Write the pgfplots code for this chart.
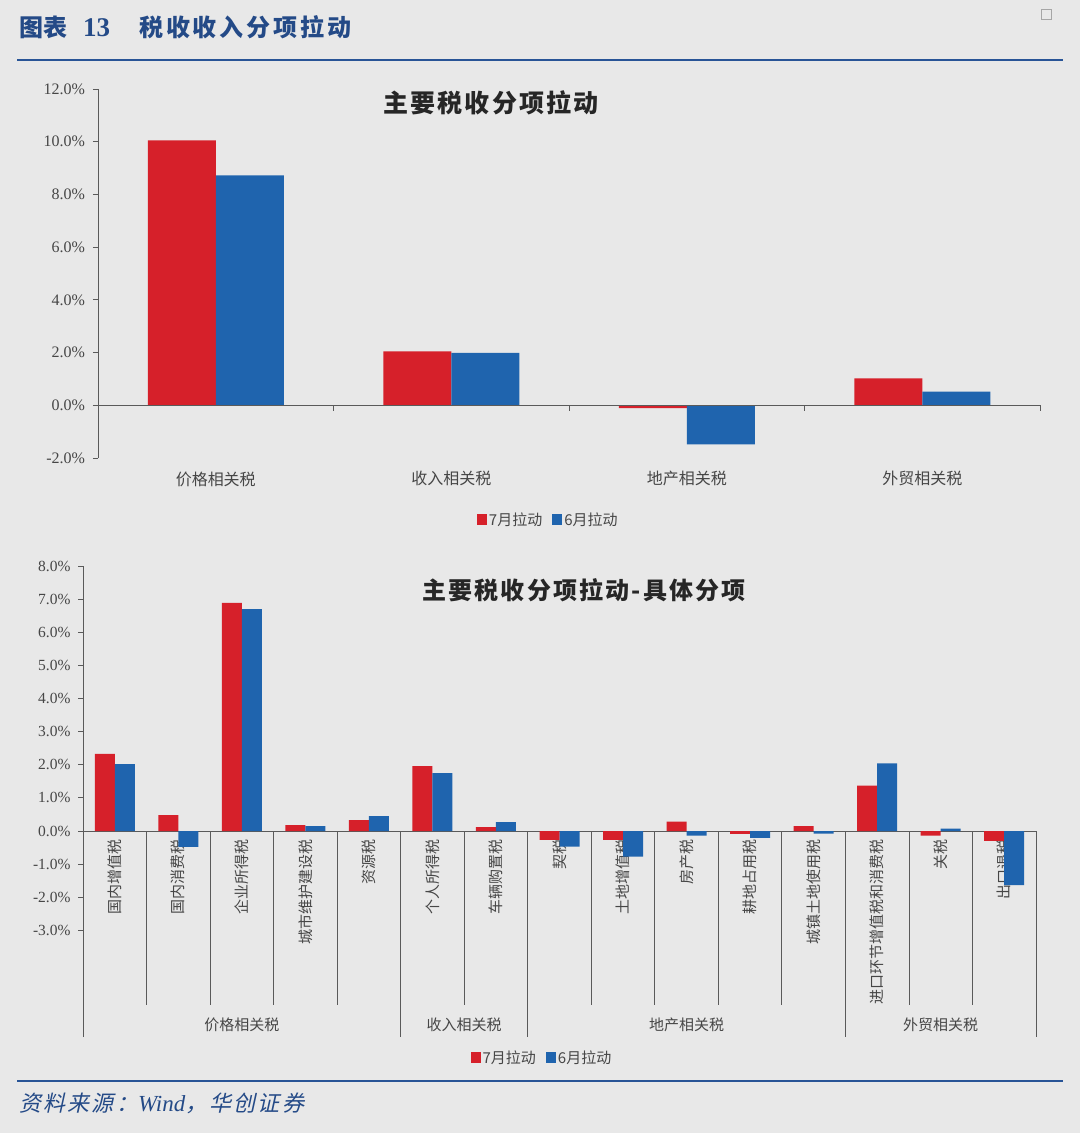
\documentclass[border=0pt]{standalone}
\usepackage{fontspec}
\usepackage{pgfplots}
\pgfplotsset{compat=1.18}
\setmainfont{Liberation Serif}
\newfontfamily\cjk{Noto Sans CJK SC}
\newfontfamily\cjksp{Noto Sans CJK SC}[LetterSpace=12]
\newfontfamily\cjkti{Noto Sans CJK SC}[LetterSpace=9]
\newfontfamily\cjkit{Noto Sans CJK SC}[FakeSlant=0.22,LetterSpace=10]
\definecolor{bg}{RGB}{232,232,232}
\definecolor{barred}{RGB}{214,32,42}
\definecolor{barblue}{RGB}{31,100,174}
\definecolor{axisgray}{RGB}{90,90,90}
\definecolor{labelgray}{RGB}{70,70,70}
\definecolor{hdrblue}{RGB}{36,74,135}
\definecolor{lineblue}{RGB}{40,84,150}

\pgfplotstableread{
x r b
0 10.05 8.72
1 2.05 1.99
2 -0.11 -1.48
3 1.02 0.52
}\topdata

\pgfplotstableread{
x r b
0 2.33 2.02
1 0.48 -0.48
2 6.89 6.70
3 0.18 0.15
4 0.33 0.45
5 1.96 1.75
6 0.12 0.27
7 -0.27 -0.47
8 -0.27 -0.77
9 0.28 -0.14
10 -0.09 -0.21
11 0.15 -0.08
12 1.37 2.04
13 -0.14 0.07
14 -0.30 -1.63
}\botdata

\begin{document}
\begin{tikzpicture}
\useasboundingbox (0,0) rectangle (1080pt,-1133pt);
\fill[bg] (0,0) rectangle (1080pt,-1133pt);
% header
\node[anchor=west, text=hdrblue, inner sep=0pt] at (19pt,-27pt)
  {\cjk\fontsize{24}{28}\selectfont\bfseries 图表\hspace{16pt}{\rmfamily\bfseries\fontsize{27}{30}\selectfont 13}\hspace{29pt}{\cjksp\bfseries 税收收入分项拉动}};
\draw[lineblue, line width=2pt] (17pt,-60pt) -- (1063pt,-60pt);
\draw[gray!70, line width=0.8pt] (1041pt,-9pt) rectangle (1051pt,-19pt);
% footer
\draw[lineblue, line width=2pt] (17pt,-1081pt) -- (1063pt,-1081pt);
\node[anchor=west, text=hdrblue, inner sep=0pt] at (19pt,-1103pt)
  {\cjkit\fontsize{22}{26}\selectfont 资料来源：{\rmfamily\itshape\fontsize{23}{26}\selectfont Wind}，华创证券};

% ---------------- top chart
\begin{axis}[
  at={(98pt,-458pt)}, anchor=south west,
  scale only axis, width=942pt, height=369pt,
  xmin=-0.5, xmax=3.5, ymin=-2, ymax=12,
  axis lines=left, axis line style={-, draw=axisgray, line width=0.8pt},
  x axis line style={draw=none},
  ytick={-2,0,2,4,6,8,10,12},
  yticklabel={\pgfmathprintnumber[fixed,fixed zerofill,precision=1,assume math mode=true]{\tick}\%},
  yticklabel style={font=\fontsize{16}{18}\selectfont, text=labelgray, xshift=-4.5pt},
  ytick style={draw=axisgray, line width=0.8pt},
  tick align=outside, major tick length=5pt,
  xtick={0,1,2,3},
  xticklabels={价格相关税,收入相关税,地产相关税,外贸相关税},
  xticklabel style={font=\cjk\fontsize{16}{19}\selectfont, text=labelgray, yshift=-5pt},
  x tick style={draw=none},
  ybar=0pt, bar width=68pt,
  legend style={at={(0.478,-0.168)}, anchor=center, draw=none, fill=none,
    legend columns=2, font=\cjk\fontsize{15}{18}\selectfont, text=labelgray,
    /tikz/every even column/.append style={column sep=8pt}},
  legend image code/.code={\path[#1,draw=none] (0pt,-5pt) rectangle (10pt,6pt);},
  clip=false,
]
\addplot[fill=barred, draw=none] table[x=x,y=r] {\topdata};
\addplot[fill=barblue, draw=none] table[x=x,y=b] {\topdata};
\legend{7月拉动,6月拉动}
\draw[axisgray, line width=0.8pt] (axis cs:-0.5,0) -- (axis cs:3.5,0);
\draw[axisgray, line width=0.8pt] (axis cs:0.5,0) -- ++(0pt,-6pt);
\draw[axisgray, line width=0.8pt] (axis cs:1.5,0) -- ++(0pt,-6pt);
\draw[axisgray, line width=0.8pt] (axis cs:2.5,0) -- ++(0pt,-6pt);
\draw[axisgray, line width=0.8pt] (axis cs:3.5,0) -- ++(0pt,-6pt);
\end{axis}
\node[text=black!85] at (491pt,-103pt) {\cjkti\fontsize{25}{29}\selectfont\bfseries 主要税收分项拉动};

% ---------------- bottom chart
\begin{axis}[
  at={(83pt,-1037pt)}, anchor=south west,
  scale only axis, width=953pt, height=471pt,
  xmin=-0.5, xmax=14.5, ymin=-6.219, ymax=8,
  axis y line=left, axis x line=middle,
  hide obscured x ticks=false, hide obscured y ticks=false,
  axis line style={-, draw=axisgray, line width=0.8pt},
  ytick={-3,-2,-1,0,1,2,3,4,5,6,7,8},
  yticklabel={\pgfmathprintnumber[fixed,fixed zerofill,precision=1,assume math mode=true]{\tick}\%},
  yticklabel style={font=\fontsize{15.5}{17}\selectfont, text=labelgray, xshift=-4pt},
  ytick style={draw=axisgray, line width=0.8pt},
  ytick align=outside, major tick length=5pt,
  xtick={0,...,14},
  xticklabels={国内增值税,国内消费税,企业所得税,城市维护建设税,资源税,个人所得税,车辆购置税,契税,土地增值税,房产税,耕地占用税,城镇土地使用税,进口环节增值税和消费税,关税,出口退税},
  xticklabel style={rotate=90, anchor=east, font=\cjk\fontsize{15}{18}\selectfont, text=labelgray},
  x tick style={draw=none},
  ybar=0pt, bar width=20pt,
  legend style={at={(0.4816,-0.0446)}, anchor=center, draw=none, fill=none,
    legend columns=2, font=\cjk\fontsize{15}{18}\selectfont, text=labelgray,
    /tikz/every even column/.append style={column sep=8pt}},
  legend image code/.code={\path[#1,draw=none] (0pt,-5pt) rectangle (10pt,6pt);},
  clip=false,
]
\addplot[fill=barred, draw=none] table[x=x,y=r] {\botdata};
\addplot[fill=barblue, draw=none] table[x=x,y=b] {\botdata};
\legend{7月拉动,6月拉动}
% separators
\draw[axisgray, line width=0.8pt] (axis cs:0.5,0) -- (axis cs:0.5,-5.25);
\draw[axisgray, line width=0.8pt] (axis cs:1.5,0) -- (axis cs:1.5,-5.25);
\draw[axisgray, line width=0.8pt] (axis cs:2.5,0) -- (axis cs:2.5,-5.25);
\draw[axisgray, line width=0.8pt] (axis cs:3.5,0) -- (axis cs:3.5,-5.25);
\draw[axisgray, line width=0.8pt] (axis cs:4.5,0) -- (axis cs:4.5,-6.219);
\draw[axisgray, line width=0.8pt] (axis cs:5.5,0) -- (axis cs:5.5,-5.25);
\draw[axisgray, line width=0.8pt] (axis cs:6.5,0) -- (axis cs:6.5,-6.219);
\draw[axisgray, line width=0.8pt] (axis cs:7.5,0) -- (axis cs:7.5,-5.25);
\draw[axisgray, line width=0.8pt] (axis cs:8.5,0) -- (axis cs:8.5,-5.25);
\draw[axisgray, line width=0.8pt] (axis cs:9.5,0) -- (axis cs:9.5,-5.25);
\draw[axisgray, line width=0.8pt] (axis cs:10.5,0) -- (axis cs:10.5,-5.25);
\draw[axisgray, line width=0.8pt] (axis cs:11.5,0) -- (axis cs:11.5,-6.219);
\draw[axisgray, line width=0.8pt] (axis cs:12.5,0) -- (axis cs:12.5,-5.25);
\draw[axisgray, line width=0.8pt] (axis cs:13.5,0) -- (axis cs:13.5,-5.25);
\draw[axisgray, line width=0.8pt] (axis cs:14.5,0) -- (axis cs:14.5,-6.219);
% group labels
\node[text=labelgray, font=\cjk\fontsize{15}{18}\selectfont] at (axis cs:2,-5.86) {价格相关税};
\node[text=labelgray, font=\cjk\fontsize{15}{18}\selectfont] at (axis cs:5.5,-5.86) {收入相关税};
\node[text=labelgray, font=\cjk\fontsize{15}{18}\selectfont] at (axis cs:9,-5.86) {地产相关税};
\node[text=labelgray, font=\cjk\fontsize{15}{18}\selectfont] at (axis cs:13,-5.86) {外贸相关税};
\end{axis}
\node[text=black!85] at (584pt,-590pt) {\cjkti\fontsize{24}{29}\selectfont\bfseries 主要税收分项拉动-具体分项};
\end{tikzpicture}
\end{document}
